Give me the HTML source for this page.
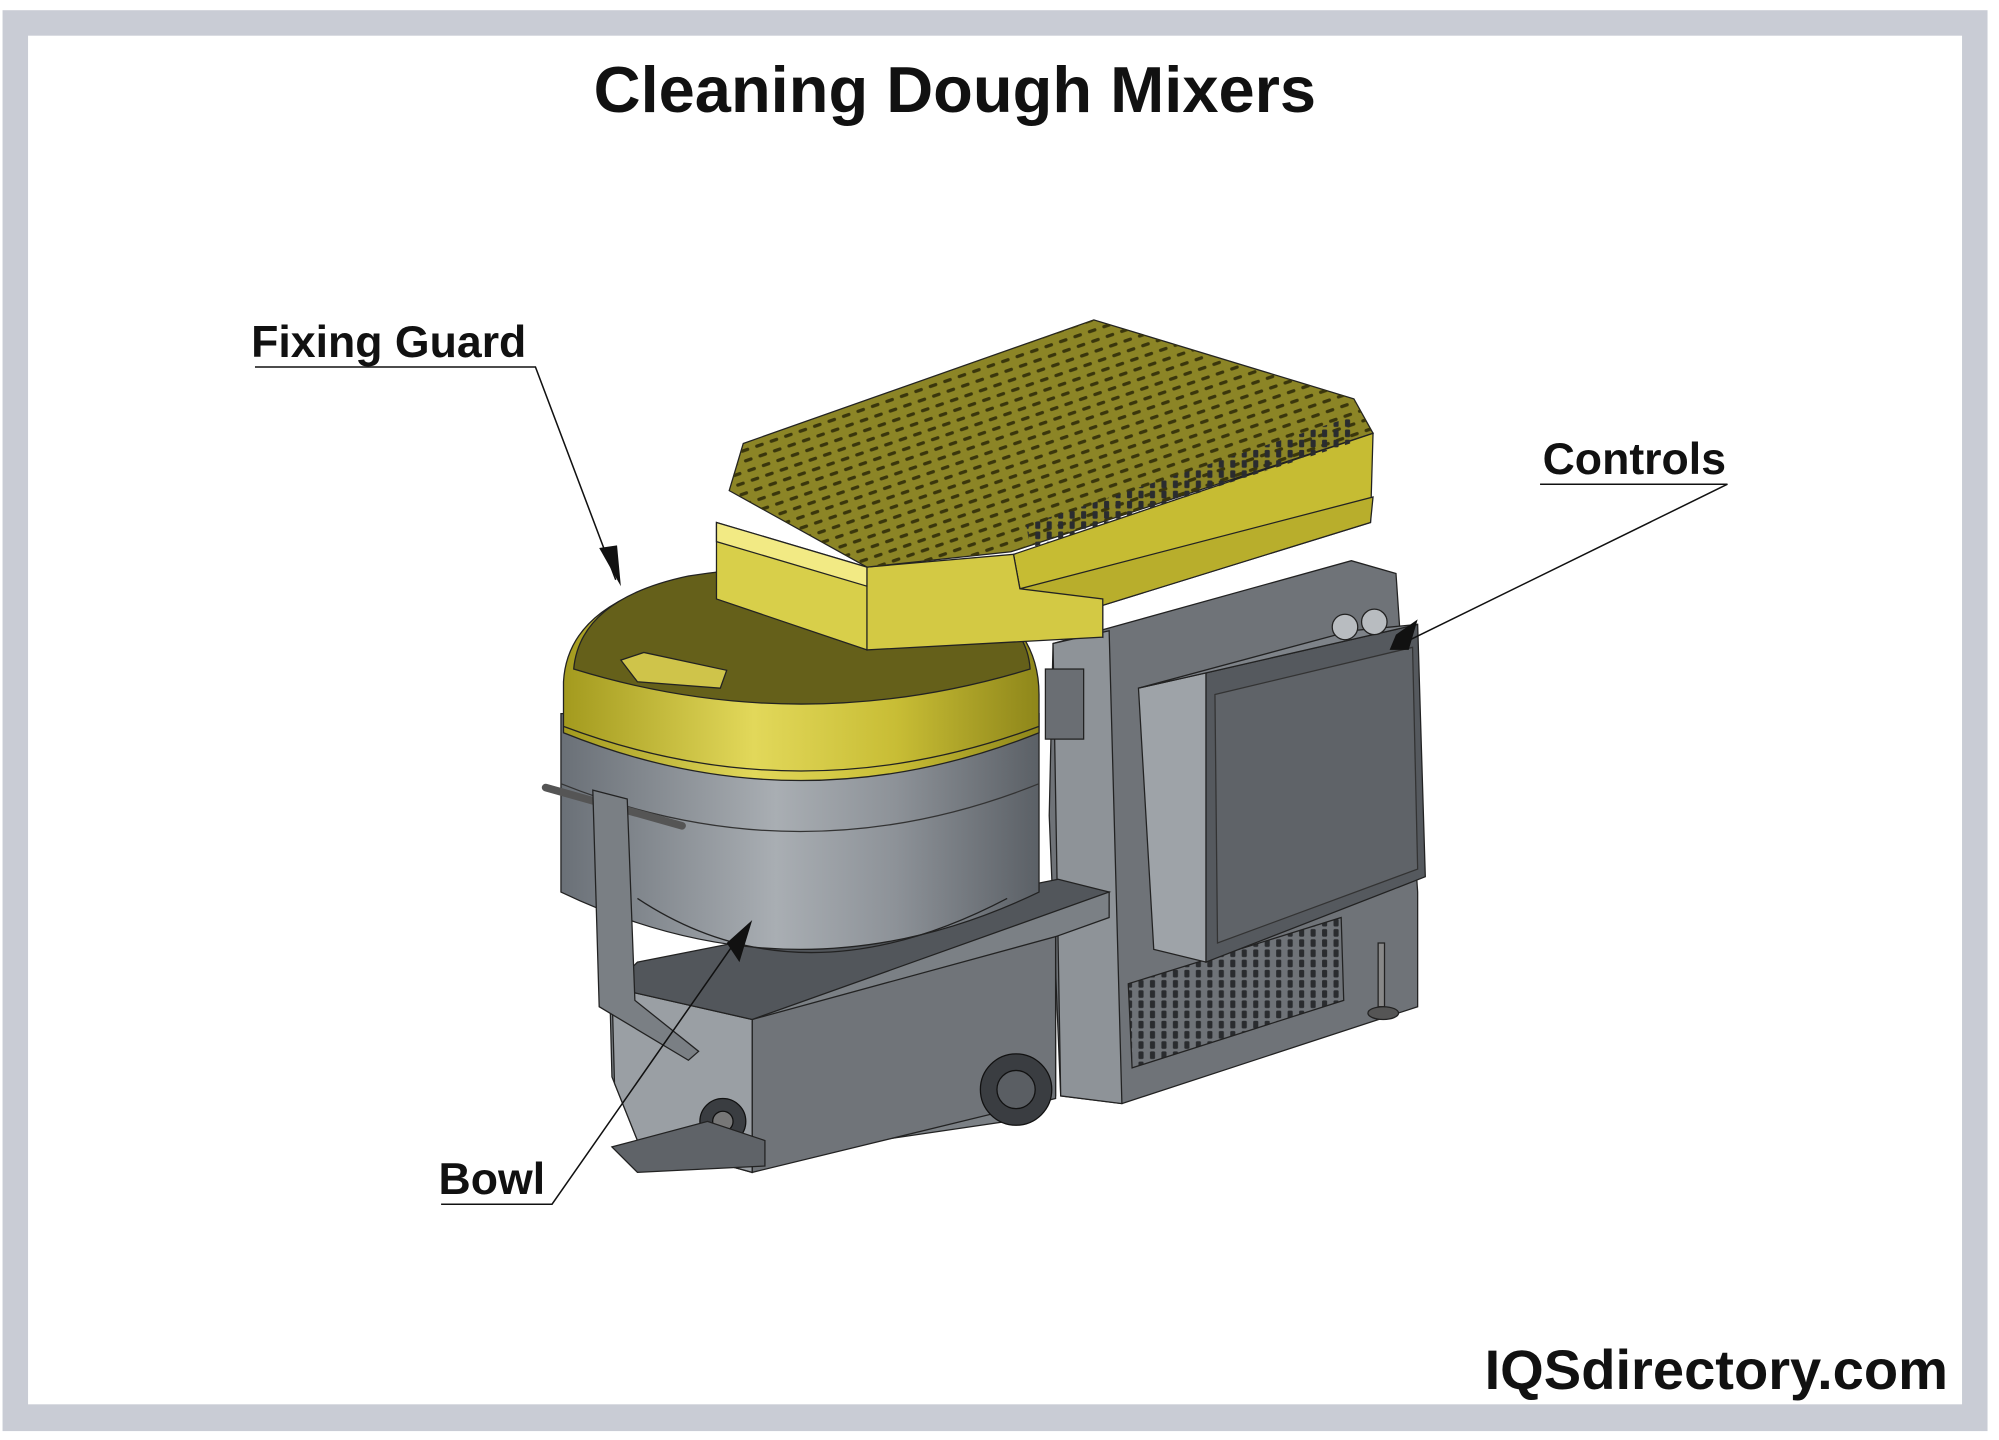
<!DOCTYPE html>
<html><head><style>
html,body{margin:0;padding:0;background:#fff}
svg{display:block}
</style></head><body>
<svg width="1999" height="1440" viewBox="0 0 1568 1130" preserveAspectRatio="none" xmlns="http://www.w3.org/2000/svg">
<defs>
<linearGradient id="cyl" x1="0" x2="1" y1="0" y2="0">
<stop offset="0" stop-color="#6a7077"/><stop offset="0.45" stop-color="#a9aeb3"/><stop offset="0.7" stop-color="#8d9298"/><stop offset="1" stop-color="#5b6066"/>
</linearGradient>
<linearGradient id="ycyl" x1="0" x2="1" y1="0" y2="0">
<stop offset="0" stop-color="#a39a1e"/><stop offset="0.4" stop-color="#e2d85a"/><stop offset="0.7" stop-color="#c8bd35"/><stop offset="1" stop-color="#8e861a"/>
</linearGradient>
<pattern id="holes" width="12" height="8" patternUnits="userSpaceOnUse" patternTransform="rotate(-19)">
<rect x="2" y="3" width="7" height="2.6" rx="1.3" fill="#3a360c"/>
</pattern>
<pattern id="vent" width="9" height="8" patternUnits="userSpaceOnUse">
<rect x="2" y="1" width="4" height="6" rx="1" fill="#2a2c2f"/>
</pattern>
</defs>
<rect x="0" y="0" width="1568" height="1130" fill="#fff"/>
<rect x="2" y="8" width="1557" height="1115" fill="#c9ccd5"/>
<rect x="22" y="28" width="1517" height="1074" fill="#fff"/>

<text x="749" y="88" text-anchor="middle" font-family="Liberation Sans, sans-serif" font-weight="bold" font-size="51" fill="#111">Cleaning Dough Mixers</text>

<!-- body right dark -->
<polygon points="826,505 1060,440 1095,450 1112,700 1112,790 880,866 832,860 823,640" fill="#6f7378" stroke="#222" stroke-width="1"/>
<polygon points="826,505 870,495 880,866 832,860" fill="#8e9398" stroke="#222" stroke-width="1"/>
<polygon points="885,772 1052,720 1054,785 888,838" fill="url(#vent)" stroke="#222"/>
<polygon points="893,540 946,528 946,755 905,745" fill="#9ea3a8" stroke="#222"/>
<polygon points="946,528 1112,490 1118,688 946,755" fill="#55595e" stroke="#222"/>
<polygon points="953,545 1108,508 1112,682 955,740" fill="#5f6368" stroke="#333"/>
<polygon points="893,540 1060,495 1112,490 946,528" fill="#7e8389" stroke="#222"/>
<rect x="965" y="500" width="50" height="28" fill="#2d2f33" transform="skewY(-8)"/>
<circle cx="1055" cy="492" r="10" fill="#b8bcc0" stroke="#222"/>
<circle cx="1078" cy="488" r="10" fill="#b8bcc0" stroke="#222"/>
<rect x="1081" y="740" width="5" height="50" fill="#888" stroke="#222"/>
<ellipse cx="1085" cy="795" rx="12" ry="5" fill="#555" stroke="#222"/>

<!-- base -->
<polygon points="478,765 610,740 870,700 870,720 828,735 828,860 790,880 620,905 590,920 500,895 480,845" fill="#7b8085" stroke="#222"/>
<polygon points="590,800 828,735 828,862 590,920" fill="#707479" stroke="#222"/>
<polygon points="480,775 590,800 590,920 500,895 482,850" fill="#9a9fa4" stroke="#222"/>
<polygon points="500,755 830,690 870,700 590,800 480,775" fill="#52565b" stroke="#222"/>
<circle cx="797" cy="855" r="28" fill="#3a3d41" stroke="#111"/>
<circle cx="797" cy="855" r="15" fill="#5a5e63" stroke="#111"/>
<circle cx="567" cy="880" r="18" fill="#3a3d41" stroke="#111"/>
<circle cx="567" cy="880" r="8" fill="#777" stroke="#111"/>
<polygon points="480,900 555,880 600,895 600,915 500,920" fill="#5f6368" stroke="#222"/>

<!-- bowl cylinder -->
<path d="M440,560 L440,700 Q628,790 815,700 L815,560 Z" fill="url(#cyl)" stroke="#222"/>
<path d="M500,705 Q628,790 790,705" fill="none" stroke="#222"/>
<path d="M440,615 Q628,690 815,615" fill="none" stroke="#333"/>
<line x1="428" y1="618" x2="535" y2="648" stroke="#555" stroke-width="6" stroke-linecap="round"/>
<polygon points="465,620 492,627 498,785 548,825 540,832 470,790" fill="#7a7f84" stroke="#222"/>

<!-- yellow guard -->
<path d="M442,535 Q445,480 520,458 Q628,430 735,455 Q815,480 815,545 L815,575 Q628,650 442,575 Z" fill="url(#ycyl)" stroke="#222"/>
<path d="M450,525 Q455,470 540,452 Q628,438 720,452 Q805,475 808,525 Q628,580 450,525 Z" fill="#65601a" stroke="#222"/>
<path d="M442,570 Q628,640 815,570" fill="none" stroke="#222"/>
<path d="M487,518 L505,512 L570,526 L565,540 L500,535 Z" fill="#cfc44a" stroke="#222"/>

<rect x="820" y="525" width="30" height="55" fill="#6a6e73" stroke="#222"/>

<!-- yellow top box -->
<polygon points="795,435 1077,340 1075,410 865,475 865,500 800,462" fill="#c6bc33" stroke="#222"/>
<polygon points="800,462 1077,390 1075,410 865,475" fill="#b8ae2c" stroke="#222"/>
<polygon points="680,445 795,435 800,462 865,470 865,500 680,510" fill="#d3c944" stroke="#222"/>
<polygon points="562,410 680,445 680,510 562,470" fill="#d8cf4a" stroke="#222"/>
<polygon points="562,410 680,445 680,460 562,425" fill="#f2ea84" stroke="#222"/>
<polygon points="583,348 858,251 1062,313 1077,340 793,433 680,445 572,385" fill="#8c8526" stroke="#222"/>
<polygon points="583,348 858,251 1062,313 1077,340 793,433 680,445 572,385" fill="url(#holes)"/>
<polygon points="805,412 1060,327 1062,347 808,430" fill="url(#vent)"/>

<!-- callouts -->
<g font-family="Liberation Sans, sans-serif" font-weight="bold" font-size="35" fill="#111">
<text x="197" y="280">Fixing Guard</text>
<text x="1210" y="372">Controls</text>
<text x="344" y="937">Bowl</text>
</g>
<g stroke="#111" stroke-width="1.2" fill="none">
<polyline points="200,288 420,288 483,455"/>
<polyline points="1208,380 1355,380 1100,505"/>
<polyline points="346,945 433,945 583,730"/>
</g>
<polygon points="470,430 487,460 484,428" fill="#111"/>
<polygon points="1095,498 1112,486 1105,510 1090,510" fill="#111"/>
<polygon points="570,740 590,722 580,755" fill="#111"/>

<text x="1528" y="1090" text-anchor="end" font-family="Liberation Sans, sans-serif" font-weight="bold" font-size="44" fill="#111">IQSdirectory.com</text>
</svg>
</body></html>
